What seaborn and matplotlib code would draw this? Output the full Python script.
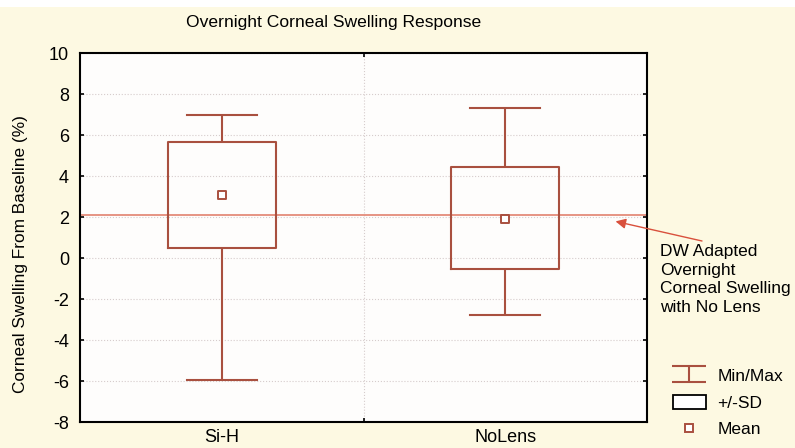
import numpy as np
import pandas as pd
import matplotlib.pyplot as plt
import seaborn as sns
from matplotlib.path import Path
from matplotlib.lines import Line2D
from matplotlib.patches import Patch, Rectangle

# values
groups = ["Si-H", "NoLens"]
mins = [-5.95, -2.75]
sd_low = [0.52, -0.51]
means = [3.1, 1.92]
sd_high = [5.66, 4.45]
maxs = [7.0, 7.35]
dw_adapted = 2.13

# five points per group -> quartiles fall on the +/-SD values, whiskers on min/max
rows = []
for g, a, b, m, c, d in zip(groups, mins, sd_low, means, sd_high, maxs):
    for v in (a, b, m, c, d):
        rows.append({"group": g, "value": v})
df = pd.DataFrame(rows)

cream = "#fdf9e2"
box_col = "#a9503f"
line_col = "#e48b7a"
arrow_col = "#d9503c"

plt.rcParams['font.family'] = ['Liberation Sans', 'DejaVu Sans']
plt.rcParams['axes.unicode_minus'] = False

fig = plt.figure(figsize=(7.95, 4.48), dpi=100, facecolor=cream)
ax = fig.add_axes([80/795, 26/448, 567/795, 368.5/448])
ax.set_facecolor("#fefdfc")

sns.boxplot(data=df, x="group", y="value", order=groups, whis=(0, 100),
            width=0.38, fill=False, color=box_col, linewidth=1.5,
            showfliers=False, medianprops={"visible": False},
            capwidths=0.246, ax=ax)

# mean markers
sns.scatterplot(x=np.arange(len(groups)), y=means, marker="s", s=30,
                facecolor="white", edgecolor=box_col, linewidth=1.4,
                zorder=5, ax=ax, legend=False)

ax.axhline(dw_adapted, color=line_col, lw=1.3, zorder=1.5)

ax.set_xlim(-0.5, 1.5)
ax.set_ylim(-8, 10)
ax.set_yticks(range(-8, 11, 2))
ax.set_xticks([0, 1], groups)
ax.set_xticks([0.5], minor=True)
ax.set_xlabel("")
ax.set_ylabel("")

ax.tick_params(axis="y", which="major", direction="in", length=3, width=1.2,
               left=True, right=True, labelsize=13, pad=8)
ax.tick_params(axis="x", which="major", length=0, labelsize=13, pad=5)
ax.tick_params(axis="x", which="minor", direction="in", length=3, width=1.2,
               top=True, bottom=True)

ax.yaxis.grid(True, linestyle=":", color="#d6cccc", lw=0.8)
ax.xaxis.grid(True, which="minor", linestyle=":", color="#d6cccc", lw=0.8)
ax.xaxis.grid(False, which="major")
ax.set_axisbelow(True)
for s in ax.spines.values():
    s.set_linewidth(1.5)
    s.set_color("black")

# arrow pointing at the reference line
ax.annotate("", xy=(1.389, 1.8), xycoords="data",
            xytext=(702/795, 1 - 241/448), textcoords="figure fraction",
            arrowprops=dict(arrowstyle="-|>", color=arrow_col, lw=1,
                            mutation_scale=15, shrinkA=0, shrinkB=0),
            annotation_clip=False)
fig.text(660/795, 1 - 244/448, "DW Adapted\nOvernight\nCorneal Swelling\nwith No Lens",
         ha="left", va="top", fontsize=12.5, linespacing=1.3)

fig.text(333.5/795, 1 - 22/448, "Overnight Corneal Swelling Response",
         ha="center", va="center", fontsize=12.6)
fig.text(21/795, 1 - 254/448, "Corneal Swelling From Baseline (%)",
         rotation=90, ha="center", va="center", fontsize=12.4)

# white strip along the top edge
fig.patches.append(Rectangle((0, 1 - 7/448), 1, 7/448, transform=fig.transFigure,
                             facecolor="white", edgecolor="none"))

# legend
ibar = Path([(-1, 0.45), (1, 0.45), (0, 0.45), (0, -0.45), (-1, -0.45), (1, -0.45)],
            [Path.MOVETO, Path.LINETO, Path.MOVETO, Path.LINETO, Path.MOVETO, Path.LINETO])
h_minmax = Line2D([], [], linestyle="none", marker=ibar, markersize=24,
                  markeredgecolor=box_col, markerfacecolor="none", markeredgewidth=1.5)
h_sd = Patch(facecolor="white", edgecolor="black", linewidth=1.3)
h_mean = Line2D([], [], linestyle="none", marker="s", markersize=5.5,
                markerfacecolor="white", markeredgecolor=box_col, markeredgewidth=1.4)
fig.legend([h_minmax, h_sd, h_mean], ["Min/Max", "+/-SD", "Mean"],
           loc="upper left", bbox_to_anchor=(673/795, 1 - 368/448),
           frameon=False, borderpad=0, borderaxespad=0, fontsize=12.5,
           handlelength=1.9, handleheight=0.85, handletextpad=0.65,
           labelspacing=0.62)

fig.savefig("out.png", dpi=100, facecolor=fig.get_facecolor())
